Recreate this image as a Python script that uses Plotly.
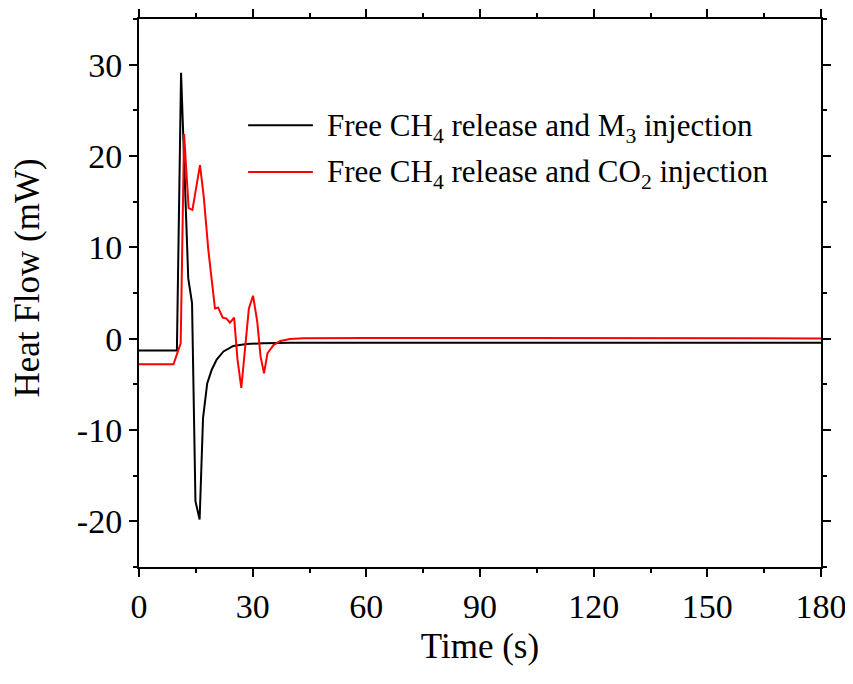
import plotly.graph_objects as go

# ---- data ----
t_m3 = [0, 10, 11.1, 13.0, 14.0, 14.9, 16.0, 16.9, 18.0, 19.2, 20.5, 22.3, 24.9, 28.4, 32.8, 40, 60, 100, 180]
hf_m3 = [-1.3, -1.3, 29.1, 6.6, 3.9, -17.8, -19.8, -8.7, -4.9, -3.4, -2.3, -1.4, -0.8, -0.58, -0.5, -0.45, -0.44, -0.44, -0.44]

t_co2 = [0, 9.1, 11.0, 11.9, 13.1, 14.1, 16.1, 17.1, 18.3, 20.05, 20.9, 22.1, 23.1, 24.0, 25.1,
         26.0, 27.0, 28.2, 29.0, 30.1, 31.2, 32.1, 33.0, 33.9, 35.5, 37.3, 39.9, 43.4, 60, 100, 180]
hf_co2 = [-2.8, -2.8, -0.5, 22.4, 14.3, 14.1, 19.0, 15.5, 9.7, 3.3, 3.4, 2.3, 2.2, 1.75, 2.3,
          -2.3, -5.4, -0.15, 3.3, 4.7, 1.9, -2.0, -3.8, -1.6, -0.7, -0.25, -0.03, 0.04, 0.08, 0.06, 0.03]

names = ["Free CH<sub>4</sub> release and M<sub>3</sub> injection",
         "Free CH<sub>4</sub> release and CO<sub>2</sub> injection"]
colors = ["black", "red"]

x_ticks = [0, 30, 60, 90, 120, 150, 180]
y_ticks = [-20, -10, 0, 10, 20, 30]
x_title = "Time (s)"
y_title = "Heat Flow (mW)"

FONT = "Liberation Serif"

fig = go.Figure()
fig.add_trace(go.Scatter(x=t_m3, y=hf_m3, mode="lines", name=names[0],
                         line=dict(color=colors[0], width=2), showlegend=False))
fig.add_trace(go.Scatter(x=t_co2, y=hf_co2, mode="lines", name=names[1],
                         line=dict(color=colors[1], width=2), showlegend=False))

# custom legend (line samples + labels)
leg_y = [0.806, 0.721]
for i in range(2):
    fig.add_shape(type="line", xref="paper", yref="paper",
                  x0=0.160, x1=0.255, y0=leg_y[i], y1=leg_y[i],
                  line=dict(color=colors[i], width=2))
    fig.add_annotation(xref="paper", yref="paper", x=0.272, y=leg_y[i] - 0.004,
                       xanchor="left", yanchor="middle", showarrow=False,
                       text=names[i], font=dict(family=FONT, size=31, color="black"))

# y-axis title placed as a rotated annotation (slightly above centre, as in the reference)
fig.add_annotation(xref="paper", yref="paper", x=-0.163, y=0.528, textangle=-90,
                   xanchor="center", yanchor="middle", showarrow=False,
                   text=y_title, font=dict(family=FONT, size=35, color="black"))

axis_common = dict(showline=True, linecolor="black", linewidth=2, mirror="ticks",
                   ticks="outside", tickcolor="black", tickwidth=2, ticklen=8,
                   showgrid=False, zeroline=False, automargin=False,
                   tickfont=dict(family=FONT, size=34, color="black"))

fig.update_xaxes(range=[0, 180], tickvals=x_ticks, ticktext=[str(v) for v in x_ticks],
                 minor=dict(dtick=15, tick0=0, ticks="outside", ticklen=4, tickwidth=2, tickcolor="black"),
                 title=dict(text=x_title, font=dict(family=FONT, size=35, color="black"), standoff=10),
                 **axis_common)
fig.update_yaxes(range=[-25, 35], tickvals=y_ticks, ticktext=[str(v) for v in y_ticks],
                 minor=dict(dtick=5, tick0=0, ticks="outside", ticklen=4, tickwidth=2, tickcolor="black"),
                 **axis_common)

fig.update_layout(width=853, height=684, plot_bgcolor="white", paper_bgcolor="white",
                  margin=dict(l=131, r=40, t=11, b=125), showlegend=False,
                  font=dict(family=FONT, color="black"))

fig.write_html("out.html")
